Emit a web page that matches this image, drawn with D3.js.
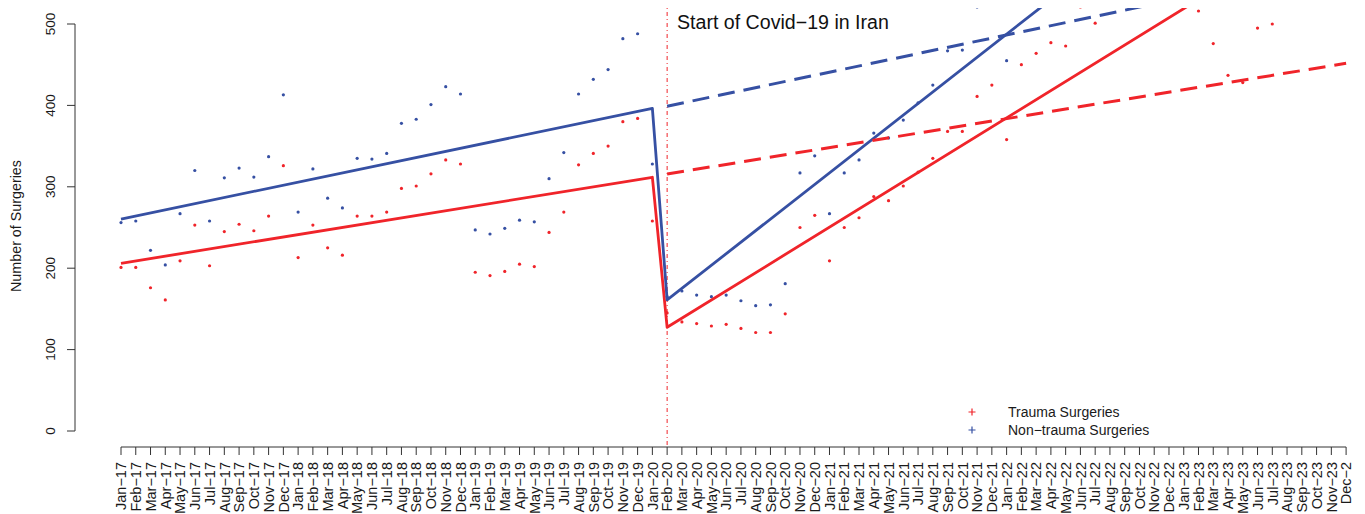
<!DOCTYPE html>
<html lang="en">
<head>
    <meta charset="UTF-8">
    <title>Trauma and non-trauma surgeries, 2017-2023</title>
    <script src="https://cdn.jsdelivr.net/npm/d3@7"></script>
    <style>
        body { margin: 0; background: #fff; }
        svg { display: block; font-family: "Liberation Sans", Arial, sans-serif; }
        .axis-line { stroke: #333; stroke-width: 1px; fill: none; }
    </style>
</head>
<body>
    <svg id="chart" width="1365" height="514"></svg>
    <script>
        // month labels (Jan-17 ... Dec-23)
        const monthNames = ["Jan", "Feb", "Mar", "Apr", "May", "Jun", "Jul", "Aug", "Sep", "Oct", "Nov", "Dec"];
        const years = ["17", "18", "19", "20", "21", "22", "23"];
        const months = [];
        years.forEach(y => monthNames.forEach(m => months.push(m + "\u2212" + y)));
        months[months.length - 1] = "Dec\u22122"; // last label as printed in the figure

        const yTicks = [0, 100, 200, 300, 400, 500];

        // monthly counts, null = above the top of the plot (not visible)
        const trauma = [
            201, 201, 176, 161, 209, 253, 203, 245, 254, 246, 264, 326,
            213, 253, 225, 216, 264, 264, 269, 298, 301, 316, 333, 328,
            195, 191, 196, 205, 202, 244, 269, 327, 341, 350, 380, 384,
            258, 145, 134, 132, 129, 131, 126, 121, 121, 144, 250, 265,
            209, 250, 262, 288, 283, 301, 318, 335, 368, 368, 411, 425,
            358, 450, 464, 477, 473, 521, 501, null, null, null, null, null,
            null, 516, 476, 437, 428, 495, 500, null, null, null, null, null
        ];
        const nonTrauma = [
            256, 258, 222, 204, 267, 320, 258, 311, 323, 312, 337, 413,
            269, 322, 286, 274, 335, 334, 341, 378, 383, 401, 423, 414,
            247, 242, 249, 259, 257, 310, 342, 414, 432, 444, 482, 488,
            328, 165, 172, 167, 165, 167, 160, 154, 155, 181, 317, 338,
            267, 317, 333, 366, 360, 382, 403, 425, 467, 468, 521, null,
            455, null, null, null, null, null, null, null, null, null, null, null,
            null, null, null, null, null, null, null, null, null, null, null, null
        ];

        // fitted segmented trend: [month index, value]
        const traumaFit = [[0, 206], [36, 311.7], [37, 127.4], [78, 586]];
        const traumaCounterfactual = [[37, 315.7], [83, 451.7]];
        const nonTraumaFit = [[0, 260.4], [36, 396.4], [37, 161], [78, 743]];
        const nonTraumaCounterfactual = [[37, 399], [83, 574]];

        const covidStart = 37; // Feb-20
        const covidLabel = "Start of Covid\u221219 in Iran";

        const red = "#f0242a";
        const blue = "#3650a3";

        const legendItems = [
            { label: "Trauma Surgeries", color: red },
            { label: "Non\u2212trauma Surgeries", color: blue }
        ];

        const svg = d3.select("#chart");

        const x = d3.scaleLinear().domain([0, 83]).range([121, 1346.1]);
        const y = d3.scaleLinear().domain([0, 500]).range([431, 24]);

        // plot region (R style 4% padding)
        const plotLeft = 75, plotTop = 8, plotBottom = 447, plotRight = 1395;

        svg.append("defs").append("clipPath").attr("id", "plotClip")
            .append("rect")
            .attr("x", plotLeft).attr("y", plotTop)
            .attr("width", plotRight - plotLeft).attr("height", plotBottom - plotTop);

        // y axis
        const yAxis = svg.append("g");
        yAxis.append("line").attr("class", "axis-line")
            .attr("x1", plotLeft).attr("x2", plotLeft)
            .attr("y1", y(0)).attr("y2", y(500));
        yAxis.selectAll(".ytick").data(yTicks).enter().append("line")
            .attr("class", "axis-line")
            .attr("x1", plotLeft - 8).attr("x2", plotLeft)
            .attr("y1", d => y(d)).attr("y2", d => y(d));
        yAxis.selectAll(".ylab").data(yTicks).enter().append("text")
            .attr("transform", d => `translate(50,${y(d)}) rotate(-90)`)
            .attr("text-anchor", "middle")
            .attr("dy", "0.35em")
            .attr("font-size", "13.5px")
            .attr("fill", "#1a1a1a")
            .text(d => d);

        svg.append("text")
            .attr("transform", `translate(16,226) rotate(-90)`)
            .attr("text-anchor", "middle")
            .attr("dy", "0.35em")
            .attr("font-size", "14.3px")
            .attr("fill", "#1a1a1a")
            .text("Number of Surgeries");

        // x axis
        const xAxis = svg.append("g");
        xAxis.append("line").attr("class", "axis-line")
            .attr("x1", x(0)).attr("x2", x(83))
            .attr("y1", plotBottom).attr("y2", plotBottom);
        xAxis.selectAll(".xtick").data(months).enter().append("line")
            .attr("class", "axis-line")
            .attr("x1", (d, i) => x(i)).attr("x2", (d, i) => x(i))
            .attr("y1", plotBottom).attr("y2", plotBottom + 8);
        xAxis.selectAll(".xlab").data(months).enter().append("text")
            .attr("transform", (d, i) => `translate(${x(i)},462) rotate(-90)`)
            .attr("text-anchor", "end")
            .attr("dy", "0.36em")
            .attr("font-size", "14.5px")
            .attr("fill", "#1a1a1a")
            .text(d => d);

        const plot = svg.append("g").attr("clip-path", "url(#plotClip)");

        // covid start marker
        plot.append("line")
            .attr("x1", x(covidStart)).attr("x2", x(covidStart))
            .attr("y1", plotTop).attr("y2", plotBottom)
            .attr("stroke", red).attr("stroke-width", 1)
            .attr("stroke-dasharray", "1,3,4,3");

        const line = d3.line().x(d => x(d[0])).y(d => y(d[1]));

        // points
        const drawPoints = (values, color) => {
            plot.append("g").selectAll("circle")
                .data(values.map((v, i) => [i, v]).filter(d => d[1] !== null))
                .enter().append("circle")
                .attr("cx", d => x(d[0]))
                .attr("cy", d => y(d[1]))
                .attr("r", 1.6)
                .attr("fill", color);
        };
        drawPoints(trauma, red);
        drawPoints(nonTrauma, blue);

        // trend lines
        [[traumaFit, red], [nonTraumaFit, blue]].forEach(([pts, c]) => {
            plot.append("path").datum(pts)
                .attr("d", line).attr("fill", "none")
                .attr("stroke", c).attr("stroke-width", 2.8)
                .attr("stroke-linejoin", "round");
        });
        [[traumaCounterfactual, red], [nonTraumaCounterfactual, blue]].forEach(([pts, c]) => {
            plot.append("path").datum(pts)
                .attr("d", line).attr("fill", "none")
                .attr("stroke", c).attr("stroke-width", 3)
                .attr("stroke-dasharray", "17,9");
        });

        svg.append("text")
            .attr("x", 677).attr("y", 28.5)
            .attr("font-size", "19.6px")
            .attr("fill", "#111")
            .text(covidLabel);

        // legend
        const legend = svg.append("g").attr("transform", "translate(972,412)");
        const item = legend.selectAll("g").data(legendItems).enter().append("g")
            .attr("transform", (d, i) => `translate(0,${i * 18})`);
        item.append("path")
            .attr("d", "M-3.5,0H3.5M0,-3.5V3.5")
            .attr("stroke", d => d.color).attr("stroke-width", 1.2);
        item.append("text")
            .attr("x", 36).attr("dy", "0.35em")
            .attr("font-size", "14px")
            .attr("fill", "#1a1a1a")
            .text(d => d.label);
    </script>
</body>
</html>
